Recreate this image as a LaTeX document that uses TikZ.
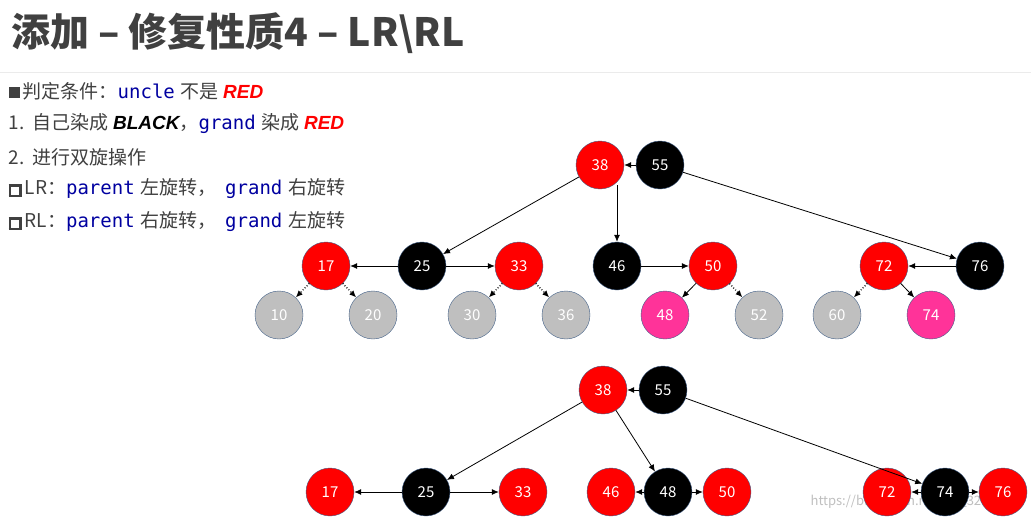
\documentclass[tikz,border=0pt]{standalone}
\usepackage{fontspec}
\setmainfont{Noto Sans CJK SC}
\setmonofont{DejaVu Sans Mono}
\newfontfamily\latinit{Liberation Sans}
\usetikzlibrary{arrows.meta}
\definecolor{pinkred}{RGB}{255,51,153}
\definecolor{leafgray}{RGB}{191,191,191}
\definecolor{rimblue}{RGB}{65,95,135}
\definecolor{codeblue}{RGB}{0,0,160}
\newcommand{\cd}[1]{{\ttfamily\color{codeblue}#1}\hspace{6pt}}
\newcommand{\hl}[2]{{\latinit\bfseries\itshape\color{#1}#2}}
\newcommand{\sq}{{\color{black!75}\rule{11pt}{11pt}}\,}
\newcommand{\osq}{{\color{black!75}\setlength{\fboxrule}{2.5pt}\setlength{\fboxsep}{0pt}\fbox{\rule{0pt}{8pt}\hspace{8pt}}}\,}
\tikzset{
  rb/.style={circle,draw=rimblue,minimum size=48pt,inner sep=0pt,text=white,font=\fontsize{15}{15}\selectfont},
  red/.style={rb,fill=red},
  blk/.style={rb,fill=black},
  pnk/.style={rb,fill=pinkred},
  nil/.style={rb,fill=leafgray},
  ln/.style={-{Latex[length=7pt,width=6pt]},thick},
  nl/.style={ln,dotted,line width=1.4pt},
  txt/.style={anchor=west,font=\fontsize{19}{19}\selectfont,text=black!75}
}
\begin{document}
\begin{tikzpicture}[x=1pt,y=-1pt]
  \useasboundingbox (0,0) rectangle (1031,522);
  \node[anchor=west,font=\bfseries\fontsize{39}{39}\selectfont,text=black!75] (title) at (8,33) {添加 – 修复性质4 – LR\textbackslash RL};
  \draw[black!8] (0,72) -- (1031,72);
  \node[txt] (t1) at (5,91) {\sq 判定条件：\cd{uncle}不是 \hl{red}{RED}};
  \node[txt] (t2) at (5,124) {1.\ \ 自己染成 \hl{black}{BLACK}，\cd{grand}染成 \hl{red}{RED}};
  \node[txt] (t3) at (5,157) {2.\ \ 进行双旋操作};
  \node[txt] (t4) at (5,189) {\osq LR：\cd{parent}左旋转，\ \ \cd{grand}右旋转};
  \node[txt] (t5) at (5,222) {\osq RL：\cd{parent}右旋转，\ \ \cd{grand}左旋转};
  \node[anchor=east,text=black!25,font=\fontsize{13}{13}\selectfont] (mark) at (1028,502) {https://blog.csdn.net/qq\_32727095};
  % upper tree
  \node[red] (a38) at (600,165) {38};
  \node[blk] (a55) at (660,165) {55};
  \node[red] (a17) at (326,266) {17};
  \node[blk] (a25) at (422,266) {25};
  \node[red] (a33) at (519,266) {33};
  \node[blk] (a46) at (617,266) {46};
  \node[red] (a50) at (713,266) {50};
  \node[red] (a72) at (884,266) {72};
  \node[blk] (a76) at (980,266) {76};
  \node[nil] (a10) at (279,315) {10};
  \node[nil] (a20) at (373,315) {20};
  \node[nil] (a30) at (472,315) {30};
  \node[nil] (a36) at (566,315) {36};
  \node[pnk] (a48) at (665,315) {48};
  \node[nil] (a52) at (759,315) {52};
  \node[nil] (a60) at (837,315) {60};
  \node[pnk] (a74) at (931,315) {74};
  \coordinate (a38b) at (617,185);
  \draw[ln] (a55) -- (a38);
  \draw[ln] (a38) -- (a25);
  \draw[ln] (a38b) -- (a46);
  \draw[ln] (a55) -- (a76);
  \draw[ln] (a25) -- (a17);
  \draw[ln] (a25) -- (a33);
  \draw[ln] (a46) -- (a50);
  \draw[ln] (a76) -- (a72);
  \draw[ln] (a72) -- (a74);
  \draw[ln] (a50) -- (a48);
  \draw[nl] (a50) -- (a52);
  \draw[nl] (a17) -- (a10);
  \draw[nl] (a17) -- (a20);
  \draw[nl] (a33) -- (a30);
  \draw[nl] (a33) -- (a36);
  \draw[nl] (a72) -- (a60);
  % lower tree
  \node[red] (b38) at (603,390) {38};
  \node[blk] (b55) at (663,390) {55};
  \node[red] (b17) at (330,492) {17};
  \node[blk] (b25) at (426,492) {25};
  \node[red] (b33) at (523,492) {33};
  \node[red] (b46) at (611,492) {46};
  \node[blk] (b48) at (668,492) {48};
  \node[red] (b50) at (727,492) {50};
  \node[red] (b72) at (887,492) {72};
  \node[blk] (b74) at (945,492) {74};
  \node[red] (b76) at (1003,492) {76};
  \draw[ln] (b55) -- (b38);
  \draw[ln] (b38) -- (b25);
  \draw[ln] (b38) -- (b48);
  \draw[ln] (b55) -- (b74);
  \draw[ln] (b25) -- (b17);
  \draw[ln] (b25) -- (b33);
  \draw[ln] (b48) -- (b46);
  \draw[ln] (b48) -- (b50);
  \draw[ln] (b74) -- (b72);
  \draw[ln] (b74) -- (b76);
\end{tikzpicture}
\end{document}
